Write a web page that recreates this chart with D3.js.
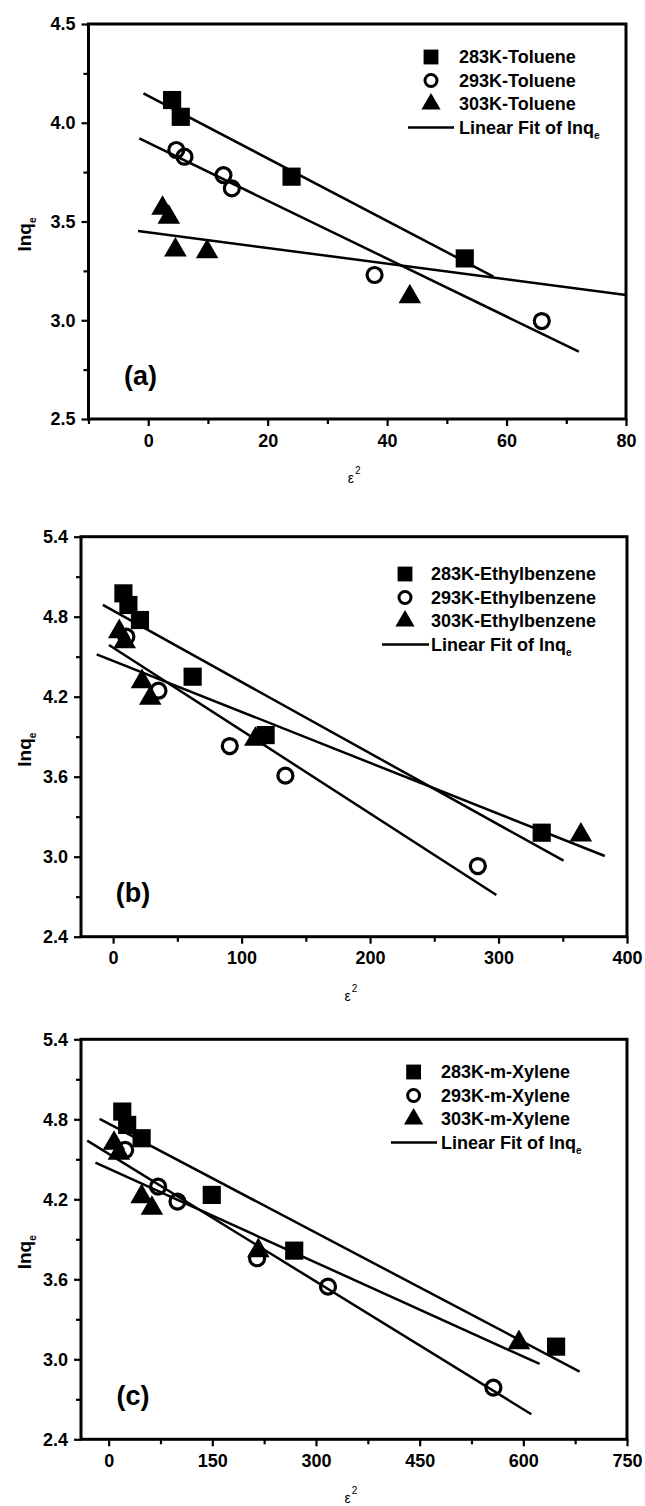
<!DOCTYPE html>
<html>
<head>
<meta charset="utf-8">
<script src="https://cdn.jsdelivr.net/npm/d3@7"></script>
<style>
  body { margin: 0; background: #fff; }
  svg { display: block; font-family: "Liberation Sans", Arial, sans-serif; }
</style>
</head>
<body>
<div id="chart"></div>
<script>
'use strict';

// (a) toluene
const tolueneXDomain = [-10, 80];
const tolueneYDomain = [2.5, 4.5];
const tolueneXTicks = [0, 20, 40, 60, 80];
const tolueneYTicks = [2.5, 3.0, 3.5, 4.0, 4.5];
const toluene283 = [[4.0, 4.115], [5.45, 4.03], [24.0, 3.727], [53.0, 3.313]];
const toluene293 = [[4.7, 3.862], [6.07, 3.828], [12.6, 3.735], [14.0, 3.668], [37.9, 3.229], [65.9, 2.996]];
const toluene303 = [[2.4, 3.567], [3.45, 3.521], [4.55, 3.356], [9.86, 3.347], [43.8, 3.119]];
// fit lines as [xStart, yStart, xEnd, yEnd]
const tolueneFits = [[-0.8, 4.149, 57.8, 3.221], [-1.5, 3.921, 72.1, 2.841], [-1.7, 3.452, 80, 3.128]];
const tolueneLegend = ['283K-Toluene', '293K-Toluene', '303K-Toluene'];

// (b) ethylbenzene
const ethylXDomain = [-25, 400];
const ethylYDomain = [2.4, 5.4];
const ethylXTicks = [0, 100, 200, 300, 400];
const ethylYTicks = [2.4, 3.0, 3.6, 4.2, 4.8, 5.4];
const ethyl283 = [[8.0, 4.975], [11.9, 4.888], [20.9, 4.775], [61.9, 4.35], [118.7, 3.912], [333.6, 3.18]];
const ethyl293 = [[10.3, 4.65], [35.3, 4.245], [90.8, 3.83], [134.1, 3.608], [283.9, 2.93]];
const ethyl303 = [[4.8, 4.688], [9.0, 4.613], [22.5, 4.313], [28.9, 4.188], [110.7, 3.88], [364.1, 3.163]];
const ethylFits = [[-8.0, 4.888, 350.6, 2.97], [-3.2, 4.588, 298.3, 2.713], [-12.8, 4.518, 382.7, 3.005]];
const ethylLegend = ['283K-Ethylbenzene', '293K-Ethylbenzene', '303K-Ethylbenzene'];

// (c) m-xylene
const xyleneXDomain = [-40, 750];
const xyleneYDomain = [2.4, 5.4];
const xyleneXTicks = [0, 150, 300, 450, 600, 750];
const xyleneYTicks = [2.4, 3.0, 3.6, 4.2, 4.8, 5.4];
const xylene283 = [[19.7, 4.858], [26.8, 4.758], [47.7, 4.658], [149.2, 4.233], [268.5, 3.815], [647.4, 3.095]];
const xylene293 = [[23.9, 4.57], [71.6, 4.295], [99.6, 4.183], [214.8, 3.758], [317.4, 3.545], [556.7, 2.788]];
const xylene303 = [[7.8, 4.62], [14.9, 4.545], [47.7, 4.22], [62.6, 4.133], [216.6, 3.815], [593.7, 3.125]];
const xyleneFits = [[-13.1, 4.803, 681.4, 2.908], [-31, 4.64, 611.6, 2.588], [-19.1, 4.475, 623.5, 2.965]];
const xyleneLegend = ['283K-m-Xylene', '293K-m-Xylene', '303K-m-Xylene'];

const fitLabel = 'Linear Fit of lnq';

const markers = [
    {type: d3.symbolSquare, size: 330, legendSize: 220, fill: '#000', stroke: 'none'},
    {type: d3.symbolCircle, size: Math.PI * 7.5 * 7.5, legendSize: Math.PI * 6 * 6, fill: 'none', stroke: '#000'},
    {type: d3.symbolTriangle, size: 220, legendSize: 160, fill: '#000', stroke: 'none'}
];

const panels = [
    {series: [toluene283, toluene293, toluene303], fits: tolueneFits, xDomain: tolueneXDomain, yDomain: tolueneYDomain,
        xTicks: tolueneXTicks, yTicks: tolueneYTicks, legend: tolueneLegend, tag: '(a)', yFormat: '.1f',
        box: {left: 88.5, right: 626, top: 24, bottom: 419},
        key: {symbolX: 431, textX: 459, lineX0: 408, lineX1: 454, top: 57}},
    {series: [ethyl283, ethyl293, ethyl303], fits: ethylFits, xDomain: ethylXDomain, yDomain: ethylYDomain,
        xTicks: ethylXTicks, yTicks: ethylYTicks, legend: ethylLegend, tag: '(b)', yFormat: '.1f',
        box: {left: 81, right: 627, top: 536.7, bottom: 936.7},
        key: {symbolX: 405, textX: 431, lineX0: 382, lineX1: 429, top: 574}},
    {series: [xylene283, xylene293, xylene303], fits: xyleneFits, xDomain: xyleneXDomain, yDomain: xyleneYDomain,
        xTicks: xyleneXTicks, yTicks: xyleneYTicks, legend: xyleneLegend, tag: '(c)', yFormat: '.1f',
        box: {left: 81, right: 627, top: 1039.3, bottom: 1439.3},
        key: {symbolX: 413.6, textX: 441, lineX0: 391, lineX1: 437, top: 1072}}
];

const svg = d3.select('#chart').append('svg')
    .attr('width', 645)
    .attr('height', 1506);

panels.forEach(function(panel) {
    drawPanel(svg, panel);
});

function minorTicks(ticks, domain) {
    // halfway marks between majors, kept inside the axis range
    let step = ticks[1] - ticks[0];
    let out = [];
    for (let v = ticks[0] - step / 2; v <= domain[1] + 1e-9; v += step) {
        if (v >= domain[0] - 1e-9) out.push(+v.toFixed(6));
    }
    return out;
}

function drawPanel(svg, panel) {
    let box = panel.box;
    let x = d3.scaleLinear().domain(panel.xDomain).range([box.left, box.right]);
    let y = d3.scaleLinear().domain(panel.yDomain).range([box.bottom, box.top]);
    let g = svg.append('g');

    // axes: major + minor ticks, outward
    let xAxis = g.append('g').attr('transform', 'translate(0,' + box.bottom + ')')
        .call(d3.axisBottom(x).tickValues(panel.xTicks).tickSize(7).tickSizeOuter(0).tickPadding(8)
            .tickFormat(d3.format('d')));
    let xMinor = g.append('g').attr('transform', 'translate(0,' + box.bottom + ')')
        .call(d3.axisBottom(x).tickValues(minorTicks(panel.xTicks, panel.xDomain)).tickSize(5)
            .tickSizeOuter(0).tickFormat(''));
    let yAxis = g.append('g').attr('transform', 'translate(' + box.left + ',0)')
        .call(d3.axisLeft(y).tickValues(panel.yTicks).tickSize(7).tickSizeOuter(0).tickPadding(6)
            .tickFormat(d3.format(panel.yFormat)));
    let yMinor = g.append('g').attr('transform', 'translate(' + box.left + ',0)')
        .call(d3.axisLeft(y).tickValues(minorTicks(panel.yTicks, panel.yDomain)).tickSize(5)
            .tickSizeOuter(0).tickFormat(''));

    [xAxis, xMinor, yAxis, yMinor].forEach(function(a) {
        a.select('.domain').remove();
        a.selectAll('line').attr('stroke', '#000').attr('stroke-width', 2.2);
        a.selectAll('text')
            .attr('fill', '#000')
            .style('font-size', '18px')
            .style('font-weight', 'bold');
    });

    g.append('rect')
        .attr('x', box.left)
        .attr('y', box.top)
        .attr('width', box.right - box.left)
        .attr('height', box.bottom - box.top)
        .attr('fill', 'none')
        .attr('stroke', '#000')
        .attr('stroke-width', 3);

    // fit lines
    g.selectAll('.fit').data(panel.fits).enter().append('line')
        .attr('class', 'fit')
        .attr('x1', function(d) { return x(d[0]); })
        .attr('y1', function(d) { return y(d[1]); })
        .attr('x2', function(d) { return x(d[2]); })
        .attr('y2', function(d) { return y(d[3]); })
        .attr('stroke', '#000')
        .attr('stroke-width', 2.5);

    panel.series.forEach(function(points, i) {
        let m = markers[i];
        g.selectAll('.pt' + i).data(points).enter().append('path')
            .attr('class', 'pt' + i)
            .attr('transform', function(d) { return 'translate(' + x(d[0]) + ',' + y(d[1]) + ')'; })
            .attr('d', d3.symbol().type(m.type).size(m.size))
            .attr('fill', m.fill)
            .attr('stroke', m.stroke)
            .attr('stroke-width', 3.2);
    });

    // legend
    let key = panel.key;
    let rowStep = 23.5;
    panel.legend.forEach(function(label, i) {
        let m = markers[i];
        let ry = key.top + i * rowStep;
        g.append('path')
            .attr('transform', 'translate(' + key.symbolX + ',' + ry + ')')
            .attr('d', d3.symbol().type(m.type).size(m.legendSize))
            .attr('fill', m.fill)
            .attr('stroke', m.stroke)
            .attr('stroke-width', 3);
        g.append('text')
            .attr('x', key.textX)
            .attr('y', ry)
            .attr('dy', '0.36em')
            .style('font-size', '18px')
            .style('font-weight', 'bold')
            .text(label);
    });
    let fy = key.top + 3 * rowStep;
    g.append('line')
        .attr('x1', key.lineX0).attr('x2', key.lineX1)
        .attr('y1', fy).attr('y2', fy)
        .attr('stroke', '#000')
        .attr('stroke-width', 2.5);
    let ft = g.append('text')
        .attr('x', key.textX)
        .attr('y', fy)
        .attr('dy', '0.36em')
        .style('font-size', '18px')
        .style('font-weight', 'bold');
    ft.append('tspan').text(fitLabel);
    ft.append('tspan').attr('dy', 5).style('font-size', '10px').text('e');

    // panel tag
    g.append('text')
        .attr('x', box.left + 52)
        .attr('y', box.bottom - 44)
        .attr('dy', '0.36em')
        .attr('text-anchor', 'middle')
        .style('font-size', '27px')
        .style('font-weight', 'bold')
        .text(panel.tag);

    // axis titles
    let cx = (box.left + box.right) / 2;
    let xt = g.append('text')
        .attr('x', cx - 3)
        .attr('y', box.bottom + 64)
        .attr('text-anchor', 'middle')
        .style('font-size', '14px');
    xt.append('tspan').text('\u03b5');
    xt.append('tspan').attr('dx', 1).attr('dy', -9).style('font-size', '10px').text('2');

    let cy = (box.top + box.bottom) / 2 + 13;
    let yt = g.append('text')
        .attr('transform', 'translate(31,' + cy + ') rotate(-90)')
        .attr('text-anchor', 'middle')
        .style('font-size', '19px')
        .style('font-weight', 'bold');
    yt.append('tspan').text('lnq');
    yt.append('tspan').attr('dy', 5).style('font-size', '10px').text('e');
}
</script>
</body>
</html>
